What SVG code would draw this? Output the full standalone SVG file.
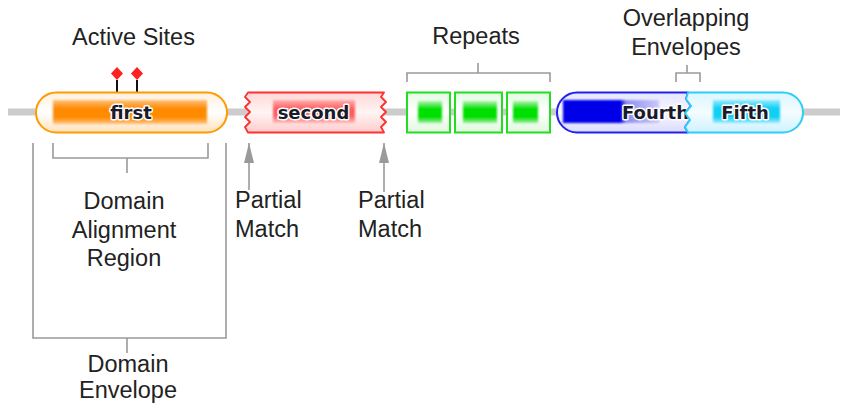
<svg xmlns="http://www.w3.org/2000/svg" width="849" height="412" viewBox="0 0 849 412">
<style>
.lbl{font-family:"Liberation Sans",Arial,sans-serif;font-size:23.5px;fill:#222;}
.mid{text-anchor:middle;}
.dtext{font-family:"DejaVu Sans",Verdana,sans-serif;font-weight:bold;font-size:18px;fill:#1a1a2a;stroke:#ffffff;stroke-width:3px;paint-order:stroke;stroke-linejoin:round;text-anchor:middle;}
.brk{fill:none;stroke:#9a9a9a;stroke-width:1.6;}
.arr{fill:none;stroke:#9a9a9a;stroke-width:1.6;}
</style>
<defs>
<filter id="soft" x="-20%" y="-30%" width="140%" height="160%"><feGaussianBlur stdDeviation="1.1"/></filter>
<linearGradient id="gOr" x1="0" y1="0" x2="0" y2="1"><stop offset="0" stop-color="#ffc27a"/><stop offset="0.35" stop-color="#ff8a00"/><stop offset="0.75" stop-color="#ff8c00"/><stop offset="1" stop-color="#ffc888"/></linearGradient>
<linearGradient id="gOrBg" x1="0" y1="0" x2="0" y2="1"><stop offset="0" stop-color="#fff0dc"/><stop offset="0.5" stop-color="#ffffff"/><stop offset="1" stop-color="#ffe2bc"/></linearGradient>
<linearGradient id="gRd" x1="0" y1="0" x2="0" y2="1"><stop offset="0" stop-color="#ffb0b0"/><stop offset="0.4" stop-color="#ff5a5a"/><stop offset="0.7" stop-color="#ff6060"/><stop offset="1" stop-color="#ffc0c0"/></linearGradient>
<linearGradient id="gRdBg" x1="0" y1="0" x2="0" y2="1"><stop offset="0" stop-color="#ffd8d8"/><stop offset="0.5" stop-color="#fff4f4"/><stop offset="1" stop-color="#ffcccc"/></linearGradient>
<linearGradient id="gGr" x1="0" y1="0" x2="0" y2="1"><stop offset="0" stop-color="#b0f5b0"/><stop offset="0.35" stop-color="#00e000"/><stop offset="0.75" stop-color="#00e000"/><stop offset="1" stop-color="#a0f0a0"/></linearGradient>
<linearGradient id="gGrBg" x1="0" y1="0" x2="0" y2="1"><stop offset="0" stop-color="#e4fbe4"/><stop offset="0.5" stop-color="#ffffff"/><stop offset="1" stop-color="#dff8df"/></linearGradient>
<linearGradient id="gBl" x1="0" y1="0" x2="1" y2="0"><stop offset="0" stop-color="#0000e8"/><stop offset="0.6" stop-color="#0000e8"/><stop offset="0.66" stop-color="#9090f0"/><stop offset="1" stop-color="#c8c8fa"/></linearGradient>
<linearGradient id="gBlBg" x1="0" y1="0" x2="0" y2="1"><stop offset="0" stop-color="#e6e6ff"/><stop offset="0.5" stop-color="#f6f6ff"/><stop offset="1" stop-color="#dcdcff"/></linearGradient>
<linearGradient id="gCy" x1="0" y1="0" x2="0" y2="1"><stop offset="0" stop-color="#9aeaff"/><stop offset="0.35" stop-color="#10d0f4"/><stop offset="0.75" stop-color="#10d0f4"/><stop offset="1" stop-color="#a0ecff"/></linearGradient>
<linearGradient id="gCyBg" x1="0" y1="0" x2="0" y2="1"><stop offset="0" stop-color="#dcf6ff"/><stop offset="0.5" stop-color="#f4fcff"/><stop offset="1" stop-color="#cff2ff"/></linearGradient>
<marker id="ah" viewBox="0 0 20 10" refX="20" refY="5" markerWidth="20" markerHeight="10" markerUnits="userSpaceOnUse" orient="auto">
<path d="M20,5 L0,0 L0,10 Z" fill="#9a9a9a"/>
</marker>
</defs>
<rect x="0" y="0" width="849" height="412" fill="#ffffff"/>

<g id="backbone"><rect x="8" y="108.5" width="832" height="7" fill="#cccccc"/></g>

<g id="connectors">
<path class="brk" d="M53,143 V158 H208 V143 M127,158 V173"/>
<path class="brk" d="M33,143 V338 H226 V143 M127,338 V353"/>
<path class="brk" d="M407,82 V73 H550 V82 M478,73 V63"/>
<path class="brk" d="M676,82 V73 H700 V82 M687,73 V65"/>
<path class="arr" d="M249,190 V143" marker-end="url(#ah)"/>
<path class="arr" d="M384,192 V143" marker-end="url(#ah)"/>
</g>

<g id="active-sites">
<path d="M117,80 V93 M137,80 V93" stroke="#111" stroke-width="2"/>
<path d="M117,67 L123,73.5 L117,80 L111,73.5 Z M137,67 L143,73.5 L137,80 L131,73.5 Z" fill="#ff2020"/>
</g>

<g id="first">
<rect x="36" y="92.5" width="191" height="40" rx="20" fill="url(#gOrBg)" stroke="#ff9a00" stroke-width="2"/>
<rect x="53" y="100" width="154" height="24" fill="url(#gOr)" filter="url(#soft)"/>
<text class="dtext" x="131" y="119">first</text>
</g>

<g id="second">
<path d="M248,92.5 L384,92.5 L381,97 L386,102 L381,107 L386,112 L381,117 L386,122 L381,127 L384,132.5 L248,132.5 L245,127 L250,122 L245,117 L250,112 L245,107 L250,102 L245,97 Z" fill="url(#gRdBg)" stroke="#ff3030" stroke-width="1.8" stroke-linejoin="round"/>
<rect x="273" y="100" width="82" height="23" fill="url(#gRd)" filter="url(#soft)"/>
<text class="dtext" x="313.5" y="119">second</text>
</g>

<g id="repeat1">
<rect x="407" y="92.5" width="43" height="40" fill="url(#gGrBg)" stroke="#22dd22" stroke-width="2"/>
<rect x="418" y="101" width="24" height="22" fill="url(#gGr)" filter="url(#soft)"/>
</g>
<g id="repeat2">
<rect x="455" y="92.5" width="47" height="40" fill="url(#gGrBg)" stroke="#22dd22" stroke-width="2"/>
<rect x="463" y="101" width="34" height="22" fill="url(#gGr)" filter="url(#soft)"/>
</g>
<g id="repeat3">
<rect x="507" y="92.5" width="43" height="40" fill="url(#gGrBg)" stroke="#22dd22" stroke-width="2"/>
<rect x="513" y="101" width="25" height="22" fill="url(#gGr)" filter="url(#soft)"/>
</g>

<g id="fourth">
<path d="M688,92.5 L577,92.5 A20,20 0 0 0 577,132.5 L688,132.5 L685,127 L690,120 L685,113 L691,106 L686,99 Z" fill="url(#gBlBg)" stroke="#2020ee" stroke-width="2" stroke-linejoin="round"/>
<rect x="563" y="100" width="96" height="23" fill="url(#gBl)" filter="url(#soft)"/>
<text class="dtext" x="689" y="119" style="text-anchor:end">Fourth</text>
</g>

<g id="fifth">
<path d="M688,92.5 L783,92.5 A20,20 0 0 1 783,132.5 L688,132.5 L685,127 L690,120 L685,113 L691,106 L686,99 Z" fill="url(#gCyBg)" stroke="#30ccf8" stroke-width="2" stroke-linejoin="round"/>
<rect x="713" y="100" width="67" height="23" fill="url(#gCy)" filter="url(#soft)"/>
<text class="dtext" x="745" y="119">Fifth</text>
</g>

<g id="labels">
<text class="lbl mid" x="133.5" y="45">Active Sites</text>
<text class="lbl mid" x="476" y="44">Repeats</text>
<text class="lbl mid" x="686" y="26">Overlapping</text>
<text class="lbl mid" x="686" y="55">Envelopes</text>
<text class="lbl mid" x="124" y="209">Domain</text>
<text class="lbl mid" x="124" y="237.5">Alignment</text>
<text class="lbl mid" x="124" y="266">Region</text>
<text class="lbl mid" x="128" y="372">Domain</text>
<text class="lbl mid" x="128" y="398">Envelope</text>
<text class="lbl" x="235" y="208">Partial</text>
<text class="lbl" x="235" y="237">Match</text>
<text class="lbl" x="358" y="208">Partial</text>
<text class="lbl" x="358" y="237">Match</text>
</g>
</svg>
